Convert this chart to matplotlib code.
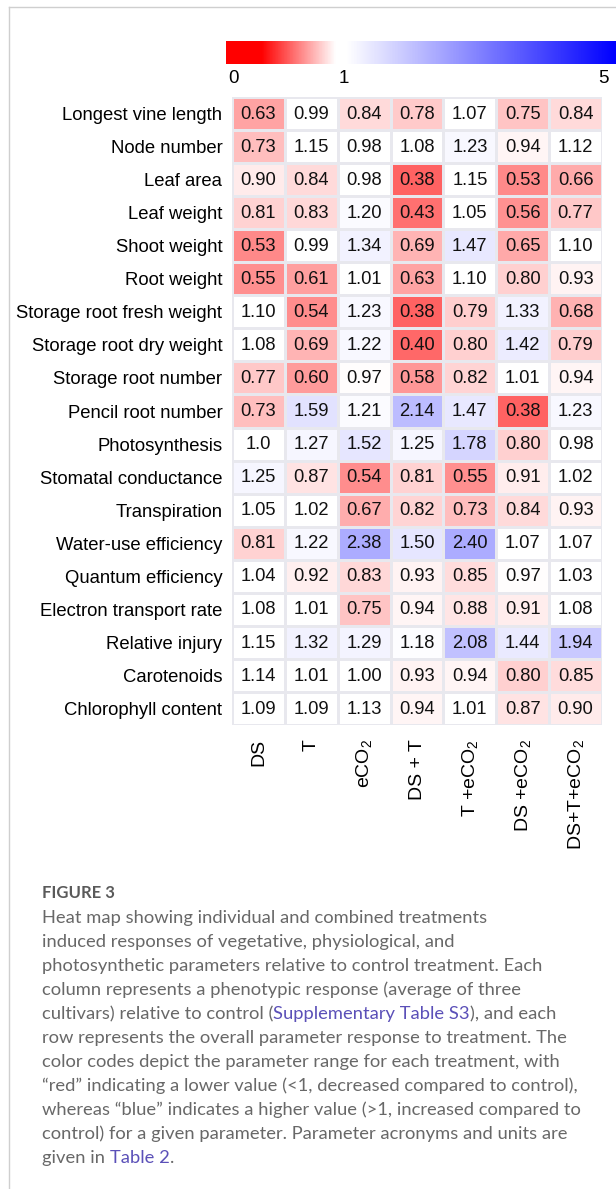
import numpy as np
import matplotlib
matplotlib.use("Agg")
import matplotlib.pyplot as plt
from matplotlib.colors import LinearSegmentedColormap, TwoSlopeNorm
from matplotlib.lines import Line2D

plt.rcParams["font.family"] = ["Liberation Sans", "DejaVu Sans"]
plt.rcParams["mathtext.fontset"] = "custom"
plt.rcParams["mathtext.rm"] = "Liberation Sans"
plt.rcParams["mathtext.it"] = "Liberation Sans:italic"

params = ["Longest vine length", "Node number", "Leaf area", "Leaf weight",
          "Shoot weight", "Root weight", "Storage root fresh weight",
          "Storage root dry weight", "Storage root number", "Pencil root number",
          "Photosynthesis", "Stomatal conductance", "Transpiration",
          "Water-use efficiency", "Quantum efficiency", "Electron transport rate",
          "Relative injury", "Carotenoids", "Chlorophyll content"]
treatments = ["DS", "T", "eCO$_2$", "DS + T", "T +eCO$_2$", "DS +eCO$_2$",
              "DS+T+eCO$_2$"]
# values as printed in the cells
cells = [
    ["0.63", "0.99", "0.84", "0.78", "1.07", "0.75", "0.84"],
    ["0.73", "1.15", "0.98", "1.08", "1.23", "0.94", "1.12"],
    ["0.90", "0.84", "0.98", "0.38", "1.15", "0.53", "0.66"],
    ["0.81", "0.83", "1.20", "0.43", "1.05", "0.56", "0.77"],
    ["0.53", "0.99", "1.34", "0.69", "1.47", "0.65", "1.10"],
    ["0.55", "0.61", "1.01", "0.63", "1.10", "0.80", "0.93"],
    ["1.10", "0.54", "1.23", "0.38", "0.79", "1.33", "0.68"],
    ["1.08", "0.69", "1.22", "0.40", "0.80", "1.42", "0.79"],
    ["0.77", "0.60", "0.97", "0.58", "0.82", "1.01", "0.94"],
    ["0.73", "1.59", "1.21", "2.14", "1.47", "0.38", "1.23"],
    ["1.0", "1.27", "1.52", "1.25", "1.78", "0.80", "0.98"],
    ["1.25", "0.87", "0.54", "0.81", "0.55", "0.91", "1.02"],
    ["1.05", "1.02", "0.67", "0.82", "0.73", "0.84", "0.93"],
    ["0.81", "1.22", "2.38", "1.50", "2.40", "1.07", "1.07"],
    ["1.04", "0.92", "0.83", "0.93", "0.85", "0.97", "1.03"],
    ["1.08", "1.01", "0.75", "0.94", "0.88", "0.91", "1.08"],
    ["1.15", "1.32", "1.29", "1.18", "2.08", "1.44", "1.94"],
    ["1.14", "1.01", "1.00", "0.93", "0.94", "0.80", "0.85"],
    ["1.09", "1.09", "1.13", "0.94", "1.01", "0.87", "0.90"],
]
vals = np.array([[float(c) for c in row] for row in cells])

# red below 1, white near 1, blue towards 5
cmap = LinearSegmentedColormap.from_list(
    "rwb", [(0, "#ff0000"), (0.49, "#ffffff"), (0.517, "#ffffff"), (1, "#0000ff")])
norm = TwoSlopeNorm(vmin=0, vcenter=1, vmax=5)

W, H = 616, 1189
fig = plt.figure(figsize=(W / 100, H / 100), dpi=100)

# frame lines on the page
fig.add_artist(Line2D([9 / W, 9 / W], [0, 1 - 7 / H], color="#cfcfcf", lw=1))
fig.add_artist(Line2D([9 / W, 1], [1 - 7 / H, 1 - 7 / H], color="#cfcfcf", lw=1))

# heatmap
ax = fig.add_axes([232 / W, 1 - 725 / H, 370 / W, 628 / H])
ax.pcolormesh(vals, cmap=cmap, norm=norm, edgecolors="#e8e8ee", linewidth=0.8)
ax.set_xlim(0, len(treatments))
ax.set_ylim(len(params), 0)
for i in range(len(params)):
    for j in range(len(treatments)):
        ax.text(j + 0.5, i + 0.52, cells[i][j], ha="center", va="center",
                fontsize=13.2, color="#111111")
ax.set_yticks(np.arange(len(params)) + 0.5)
ax.set_yticklabels(params, fontsize=13.3)
ax.set_xticks(np.arange(len(treatments)) + 0.5)
ax.set_xticklabels(treatments, rotation=90, fontsize=14)
ax.tick_params(length=0, pad=7)
ax.tick_params(axis="x", pad=10)
for s in ax.spines.values():
    s.set_visible(False)

# colour key (0 .. 1 .. 5, with 1 about 30% along)
bar_cmap = LinearSegmentedColormap.from_list(
    "bar", [(0, "#ff0000"), (0.09, "#ff0000"), (0.28, "#ffffff"),
            (0.31, "#ffffff"), (1, "#0000ff")])
cax = fig.add_axes([226 / W, 1 - 64 / H, 390 / W, 23 / H])
cax.imshow(np.linspace(0, 1, 512)[None, :], aspect="auto", cmap=bar_cmap,
           extent=[0, 1, 0, 1])
cax.set_axis_off()
for xf, lab in [(0.005, "0"), (0.29, "1"), (0.955, "5")]:
    cax.text(xf, -0.25, lab, transform=cax.transAxes, ha="left", va="top",
             fontsize=13.5)

# caption
cap_font = ["Lato", "DejaVu Sans"]
grey = "#686868"
link = "#5b50b8"
fig.text(42 / W, 1 - 893 / H, "FIGURE 3", family=cap_font, weight="bold",
         fontsize=12, color="#5a5a5a", va="center")
lines = [
    [("Heat map showing individual and combined treatments", grey)],
    [("induced responses of vegetative, physiological, and", grey)],
    [("photosynthetic parameters relative to control treatment. Each", grey)],
    [("column represents a phenotypic response (average of three", grey)],
    [("cultivars) relative to control (", grey), ("Supplementary Table S3", link),
     ("), and each", grey)],
    [("row represents the overall parameter response to treatment. The", grey)],
    [("color codes depict the parameter range for each treatment, with", grey)],
    [("\u201cred\u201d indicating a lower value (<1, decreased compared to control),", grey)],
    [("whereas \u201cblue\u201d indicates a higher value (>1, increased compared to", grey)],
    [("control) for a given parameter. Parameter acronyms and units are", grey)],
    [("given in ", grey), ("Table 2", link), (".", grey)],
]
renderer = fig.canvas.get_renderer()
for k, parts in enumerate(lines):
    y = 1 - (918 + 24 * k) / H
    x = 42
    for txt, col in parts:
        t = fig.text(x / W, y, txt, family=cap_font, fontsize=13.2, color=col,
                     va="center")
        x += t.get_window_extent(renderer).width

fig.savefig("out.png", dpi=100)
